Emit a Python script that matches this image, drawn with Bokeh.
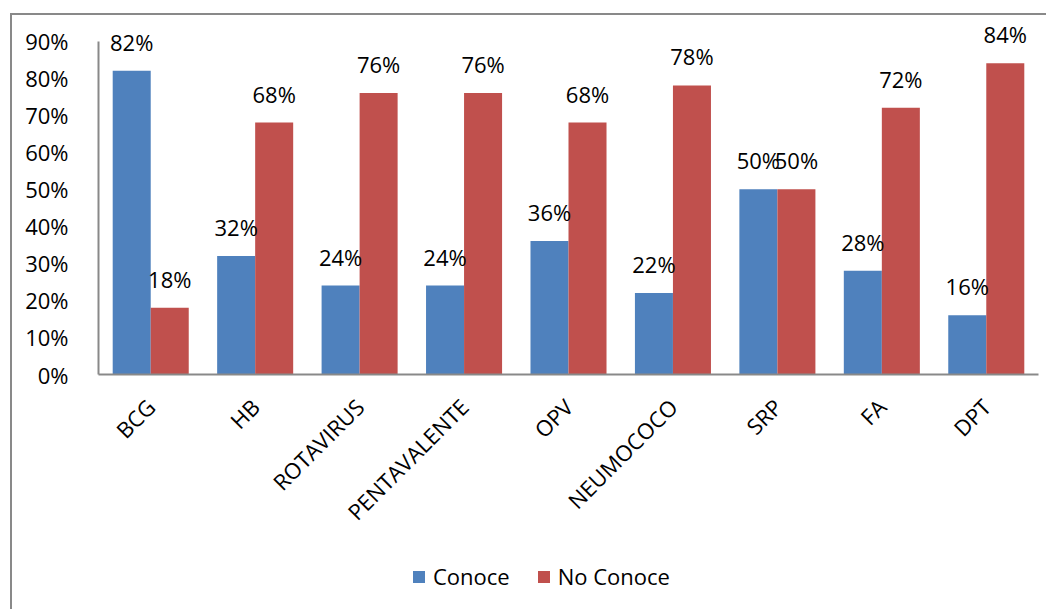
from math import pi

from bokeh.core.properties import value
from bokeh.embed import file_html
from bokeh.layouts import column
from bokeh.models import (ColumnDataSource, FactorRange, FixedTicker, Legend,
                          LegendItem, LabelSet, NumeralTickFormatter, Range1d)
from bokeh.plotting import figure
from bokeh.resources import INLINE
from bokeh.transform import dodge

# Vaccines and share of respondents who know / do not know each one
vacunas = ["BCG", "HB", "ROTAVIRUS", "PENTAVALENTE", "OPV", "NEUMOCOCO", "SRP", "FA", "DPT"]
conoce = [0.82, 0.32, 0.24, 0.24, 0.36, 0.22, 0.50, 0.28, 0.16]
no_conoce = [0.18, 0.68, 0.76, 0.76, 0.68, 0.78, 0.50, 0.72, 0.84]
series = ["Conoce", "No Conoce"]
y_ticks = [0.0, 0.1, 0.2, 0.3, 0.4, 0.5, 0.6, 0.7, 0.8, 0.9]

FONT = "Open Sans"
BLUE = "#4F81BD"
RED = "#C0504D"
AXIS = "#898989"

source = ColumnDataSource(dict(
    vacuna=vacunas,
    conoce=conoce,
    no_conoce=no_conoce,
    conoce_txt=[f"{round(v * 100)}%" for v in conoce],
    no_conoce_txt=[f"{round(v * 100)}%" for v in no_conoce],
))

# the frame reaches a little above 90% so the value labels of the tallest bars fit
p = figure(
    x_range=FactorRange(*vacunas, range_padding=0),
    y_range=Range1d(0, 0.95),
    frame_width=940, frame_height=352,
    min_border_left=86, min_border_top=7, min_border_right=8, min_border_bottom=4,
    output_backend="svg", toolbar_location=None,
)

bw = 0.364
p.vbar(x=dodge("vacuna", -bw / 2, range=p.x_range), top="conoce", width=bw,
       source=source, fill_color=BLUE, line_color=None)
p.vbar(x=dodge("vacuna", bw / 2, range=p.x_range), top="no_conoce", width=bw,
       source=source, fill_color=RED, line_color=None)

for col, txt, off in (("conoce", "conoce_txt", -bw / 2), ("no_conoce", "no_conoce_txt", bw / 2)):
    p.add_layout(LabelSet(
        x=dodge("vacuna", off, range=p.x_range), y=col, text=txt, source=source,
        y_offset=20, text_align="center", text_baseline="alphabetic",
        text_font=value(FONT), text_font_size=value("22px"), text_color="black",
    ))

p.xgrid.visible = False
p.ygrid.visible = False
p.outline_line_color = None

p.yaxis.ticker = FixedTicker(ticks=y_ticks)
p.yaxis.formatter = NumeralTickFormatter(format="0%")
p.yaxis.bounds = (0, 0.9)
p.yaxis.major_label_standoff = 24

p.xaxis.major_label_orientation = pi / 4
p.xaxis.major_label_standoff = 22

for ax in (p.xaxis, p.yaxis):
    ax.axis_line_color = AXIS
    ax.axis_line_width = 2
    ax.major_tick_line_color = None
    ax.minor_tick_line_color = None
    ax.major_label_text_font = FONT
    ax.major_label_text_font_size = "22px"
    ax.major_label_text_color = "black"

# a strip under the chart that only carries the legend; its two key renderers
# hold a single zero-height bar each, so nothing but the legend shows
leg = figure(
    width=1034, height=70, x_range=(0, 1), y_range=(0, 1),
    x_axis_type=None, y_axis_type=None,
    min_border=0, output_backend="svg", toolbar_location=None,
)
leg.grid.visible = False
leg.outline_line_color = None
k1 = leg.vbar(x=[-5], top=[0], width=0.1, fill_color=BLUE, line_color=None)
k2 = leg.vbar(x=[-5], top=[0], width=0.1, fill_color=RED, line_color=None)

legend = Legend(
    items=[LegendItem(label=series[0], renderers=[k1]),
           LegendItem(label=series[1], renderers=[k2])],
    orientation="horizontal", location=(313, 18),
    glyph_width=15, glyph_height=15, label_standoff=7, spacing=26,
    label_text_font=FONT, label_text_font_size="22px", label_text_color="black",
    border_line_color=None, background_fill_alpha=0,
    margin=0, padding=1,
)
leg.add_layout(legend, "center")

layout = column(p, leg, spacing=0)
layout.margin = (13, 0, 0, 10)
layout.styles = {"border-left": "2px solid #898989", "border-top": "2px solid #898989"}

open("out.html", "w").write(file_html(layout, INLINE))
